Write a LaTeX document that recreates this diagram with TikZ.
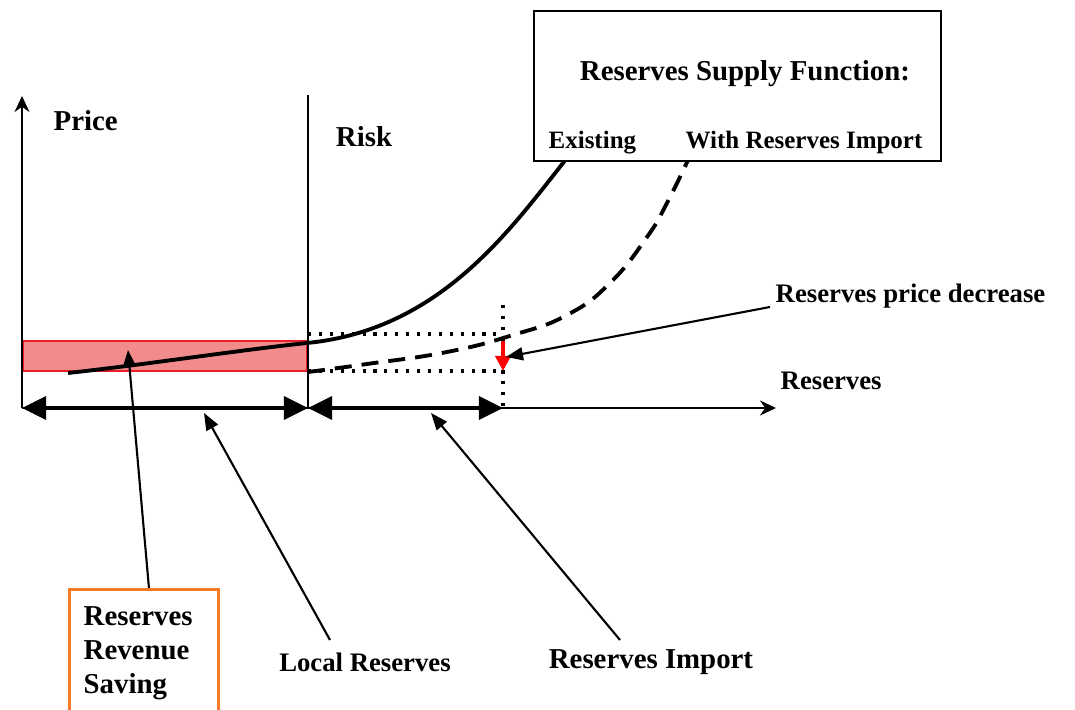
\documentclass[tikz,border=0pt]{standalone}
\usepackage{fontspec}
\setmainfont{Liberation Serif}
\usetikzlibrary{calc,arrows.meta}
\definecolor{saving}{HTML}{F28C8C}
\definecolor{savingedge}{HTML}{EE1C24}
\definecolor{boxorange}{HTML}{F47A2A}
\tikzset{
  lbl/.style={font=\fontsize{7.6}{9.7}\selectfont\bfseries,inner sep=0pt},
  biglbl/.style={font=\fontsize{8.2}{9.7}\selectfont\bfseries,inner sep=0pt},
  smalllbl/.style={font=\fontsize{7.1}{9}\selectfont\bfseries,inner sep=0pt},
  span/.style={line width=1pt,{Triangle[length=0.24cm,width=0.23cm]}-{Triangle[length=0.24cm,width=0.23cm]}},
  callout/.style={line width=0.6pt,-{Triangle[length=0.17cm,width=0.13cm]}},
  guide/.style={line width=0.9pt,dash pattern=on 0.9pt off 2.2pt},
  axis/.style={line width=0.6pt,-{Stealth[length=0.16cm,width=0.15cm]}}
}

\begin{document}
\begin{tikzpicture}[x=0.01cm,y=-0.01cm]
  \useasboundingbox (0,0) rectangle (1075,710);
  \coordinate (O) at (22,408);
  \coordinate (ytop) at (22,96);
  \coordinate (xend) at (776,408);
  \coordinate (riskbase) at (308,408);
  \coordinate (risktop) at (308,95);
  \coordinate (importend) at (503,408);
  \filldraw[fill=saving,draw=savingedge,line width=0.7pt] (23,341) rectangle (307,371);
  \draw[line width=1.1pt] (68,373) .. controls (150,364) and (240,350) .. (307,343)
    .. controls (440,330) and (510,230) .. (567,158);
  \draw[line width=1.1pt,dash pattern=on 1.7mm off 1mm] plot[smooth,tension=0.8] coordinates
    {(308,372) (367,364) (447,352) (513,335) (567,315) (610,283) (647,237) (667,203) (689,158)};
  \draw[guide] (308,334) -- (503,334);
  \draw[guide] (308,371) -- (503,371);
  \draw[guide] (503,305) -- (importend);
  \draw[red,line width=1.1pt,-{Triangle[length=0.15cm,width=0.15cm]}] (503,341) -- (503,371);
  \draw[axis] (O) -- (ytop);
  \draw[axis] (O) -- (xend);
  \draw[line width=0.6pt] (risktop) -- (riskbase);
  \draw[span] (O) -- (riskbase);
  \draw[span] (riskbase) -- (importend);
  \node[biglbl,anchor=west] (price) at (53,121) {Price};
  \node[biglbl] (risk) at (364,137) {Risk};
  \node[lbl,anchor=west] (reserves) at (780,381) {Reserves};
  \node[lbl,anchor=west] (decrease) at (775,296) {Reserves price decrease};
  \node[lbl] (local) at (365,662) {Local Reserves};
  \node[biglbl] (import) at (651,662) {Reserves Import};
  \node[draw,line width=0.6pt,fill=white,minimum width=4.07cm,minimum height=1.5cm,anchor=north west] (legend) at (533,10) {};
  \node[biglbl] (title) at (745,74) {Reserves Supply Function:};
  \node[smalllbl,anchor=west] (existing) at (548,143) {Existing};
  \node[smalllbl,anchor=west] (withimport) at (685,143) {With Reserves Import};
  \node[draw=boxorange,line width=0.8pt,minimum width=1.49cm,minimum height=1.4cm,anchor=north west] (savebox) at (68,588) {};
  \node[biglbl,align=left,anchor=north west] (saving) at (83,606) {Reserves\\Revenue\\Saving};
  \coordinate (savingtip) at (128,350);
  \coordinate (localfoot) at (330,640);
  \coordinate (localtip) at (204,413);
  \coordinate (importfoot) at (620,640);
  \coordinate (importtip) at (431,413);
  \coordinate (decreasefoot) at (770,307);
  \coordinate (decreasetip) at (506,357);
  \draw[callout] ($(savebox.north)+(5,0)$) -- (savingtip);
  \draw[callout] (localfoot) -- (localtip);
  \draw[callout] (importfoot) -- (importtip);
  \draw[callout] (decreasefoot) -- (decreasetip);
\end{tikzpicture}
\end{document}
